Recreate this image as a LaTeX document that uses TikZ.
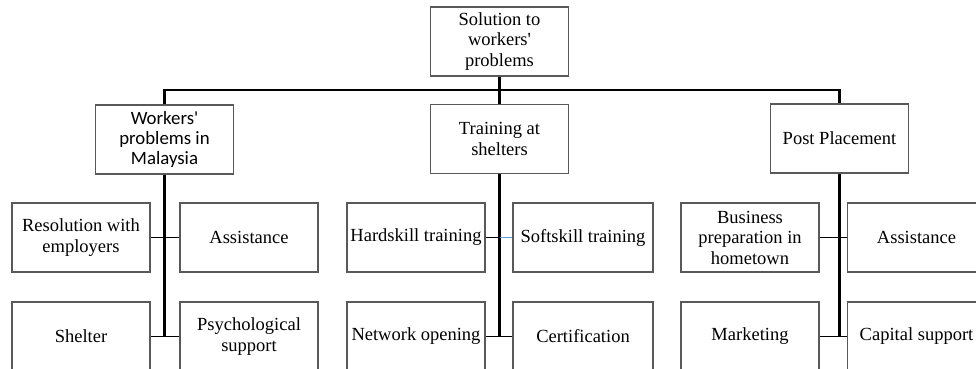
\documentclass[tikz,border=0pt]{standalone}
\usepackage{fontspec}
\setmainfont{Liberation Serif}
\newfontfamily\carlito{Carlito}
\usetikzlibrary{positioning}

\tikzset{
  box/.style={draw=black!65, line width=1.5pt, fill=white,
    minimum width=138pt, minimum height=69pt, inner sep=1pt,
    align=center, font=\fontsize{18.5}{20.5}\selectfont},
  sansbox/.style={box, font=\carlito\fontsize{18.8}{20}\selectfont},
  trunk/.style={line width=2.2pt},
  stub/.style={line width=1.6pt}
}
\definecolor{linkblue}{HTML}{5B9BD5}

\begin{document}
\begin{tikzpicture}[x=1pt,y=-1pt]
        \useasboundingbox (0,0) rectangle (976,368);

        % top level
        \node[box] (sol) at (499.5,41.5) {Solution to\\workers\textquotesingle\\problems};
        \node[sansbox] (wp) at (164.5,139.5) {Workers\textquotesingle\\problems in\\Malaysia};
        \node[box] (tr) at (499.5,139) {Training at\\shelters};
        \node[box] (pp) at (839.5,138.5) {Post Placement};

        % first group
        \node[box] (res) at (81,237.5) {Resolution with\\employers};
        \node[box] (ast1) at (249,237.5) {Assistance};
        \node[box] (shel) at (81,336.5) {Shelter};
        \node[box] (psy) at (249,336.5) {Psychological\\support};

        % second group
        \node[box] (hard) at (416,237.5) {Hardskill training};
        \node[box, minimum width=140pt] (soft) at (583,237.5) {Softskill training};
        \node[box] (net) at (416,336.5) {Network opening};
        \node[box, minimum width=140pt] (cert) at (583,336.5) {Certification};

        % third group
        \node[box] (bus) at (750,237.5) {Business\\preparation in\\hometown};
        \node[box] (ast2) at (916.5,237.5) {Assistance};
        \node[box] (mkt) at (750,336.5) {Marketing};
        \node[box] (cap) at (916.5,336.5) {Capital support};

        % bus line
        \coordinate (hub) at (499.5,90);
        \draw[trunk] (sol.south) -- (tr.north);
        \draw[trunk] (wp.north) |- (hub) -| (pp.north);

        % trunks
        \draw[trunk] (wp.south) -- (wp.south |- shel);
        \draw[trunk] (tr.south) -- (tr.south |- net);
        \draw[trunk] (pp.south) -- (pp.south |- mkt);

        % stubs
        \draw[stub] (res.east) -- (ast1.west);
        \draw[stub] (shel.east) -- (psy.west);
        \draw[stub] (hard.east) -- (tr.south |- hard);
        \draw[stub, linkblue] (tr.south |- soft) -- (soft.west);
        \draw[stub] (net.east) -- (cert.west);
        \draw[stub] (bus.east) -- (ast2.west);
        \draw[stub] (mkt.east) -- (cap.west);

    \end{tikzpicture}
\end{document}
